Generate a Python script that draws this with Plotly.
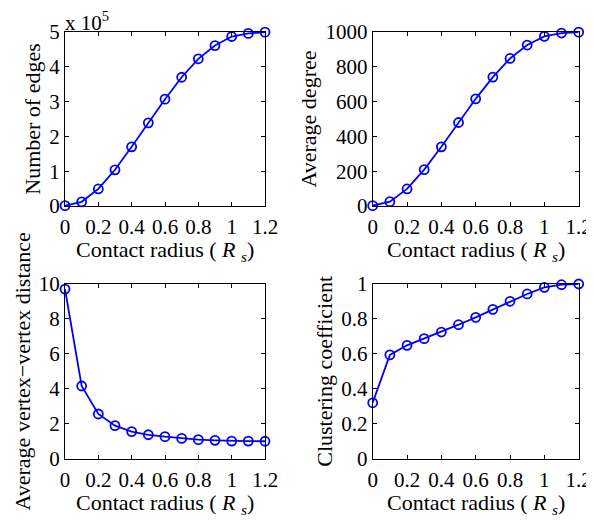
import plotly.graph_objects as go
from plotly.subplots import make_subplots

radius = [0, 0.1, 0.2, 0.3, 0.4, 0.5, 0.6, 0.7, 0.8, 0.9, 1.0, 1.1, 1.2]
edges = [1000, 12000, 49000, 104000, 170000, 239000, 307000, 370000, 423000, 461000, 487000, 496000, 499500]
avg_degree = [2, 25, 98, 209, 340, 480, 616, 741, 848, 925, 975, 994, 999]
avg_distance = [9.71, 4.16, 2.56, 1.89, 1.55, 1.37, 1.26, 1.16, 1.09, 1.05, 1.01, 1.01, 1.0]
clustering = [0.32, 0.594, 0.649, 0.687, 0.725, 0.767, 0.809, 0.855, 0.901, 0.943, 0.981, 0.996, 1.0]
x_ticks = [0, 0.2, 0.4, 0.6, 0.8, 1.0, 1.2]
x_ticklabels = ["0", "0.2", "0.4", "0.6", "0.8", "1", "1.2"]

EDGE_SCALE = 1e5

FONT = "Liberation Serif"
BLUE = "#0000ff"
OFF = 8                 # page body margin
W, H = 594 - OFF, 523 - OFF
TICK_SIZE = 21
TITLE_SIZE = 22


def px(x):
    return (x - OFF) / W


def py(y):
    return 1 - (y - OFF) / H


fig = make_subplots(rows=2, cols=2)

series = [
    ([e / EDGE_SCALE for e in edges], 1, 1),
    (avg_degree, 1, 2),
    (avg_distance, 2, 1),
    (clustering, 2, 2),
]
for ys, r, c in series:
    fig.add_trace(
        go.Scatter(
            x=radius, y=ys, mode="lines+markers",
            line=dict(color=BLUE, width=1.8),
            marker=dict(symbol="circle-open", size=9, color=BLUE, line=dict(width=1.8, color=BLUE)),
            cliponaxis=False, showlegend=False,
        ),
        row=r, col=c,
    )

# domains (reference pixel measurements)
LX = (65, 265)
RX = (372.7, 578.7)
TY = (32, 206)
BY = (284, 458.7)
xd_left = [px(LX[0]), px(LX[1])]
xd_right = [px(RX[0]), px(RX[1])]
yd_top = [py(TY[1]), py(TY[0])]
yd_bot = [py(BY[1]), py(BY[0])]

common_ax = dict(
    showline=True, linecolor="black", linewidth=1, mirror="ticks",
    ticks="inside", ticklen=4, tickcolor="black", tickwidth=1,
    showgrid=False, zeroline=False, automargin=False,
    tickfont=dict(family=FONT, size=TICK_SIZE, color="black"),
)
for i, (xd, yd) in enumerate([(xd_left, yd_top), (xd_right, yd_top), (xd_left, yd_bot), (xd_right, yd_bot)], start=1):
    fig.layout[f"xaxis{'' if i == 1 else i}"].update(
        domain=xd, range=[0, 1.2], tickmode="array",
        tickvals=x_ticks, ticktext=x_ticklabels, ticklabelstandoff=2, **common_ax,
    )
    fig.layout[f"yaxis{'' if i == 1 else i}"].update(domain=yd, **common_ax)

ytf = dict(family=FONT, size=TITLE_SIZE, color="black")
fig.update_yaxes(range=[0, 5], dtick=1, row=1, col=1,
                 title=dict(text="Number of edges", font=ytf, standoff=2))
fig.update_yaxes(range=[0, 1000], dtick=200, row=1, col=2,
                 title=dict(text="Average degree", font=ytf, standoff=2))
fig.update_yaxes(range=[0, 10], dtick=2, row=2, col=1,
                 title=dict(text="Average vertex−vertex distance", font=ytf, standoff=2))
fig.update_yaxes(range=[0, 1], dtick=0.2, row=2, col=2,
                 title=dict(text="Clustering coefficient", font=ytf, standoff=2))

# x-axis titles as annotations for precise placement
xtitle = "Contact radius ( <i>R</i> <sub><i>s</i></sub>)"
for xr, ybot in [(LX, TY[1]), (RX, TY[1]), (LX, BY[1]), (RX, BY[1])]:
    fig.add_annotation(
        text=xtitle, xref="paper", yref="paper",
        x=px((xr[0] + xr[1]) / 2), y=py(ybot + 29), xanchor="center", yanchor="top",
        showarrow=False, font=dict(family=FONT, size=TITLE_SIZE, color="black"),
    )

fig.add_annotation(
    text="x 10<sup>5</sup>", xref="paper", yref="paper",
    x=px(63), y=yd_top[1], xanchor="left", yanchor="bottom",
    showarrow=False, font=dict(family=FONT, size=TICK_SIZE, color="black"), yshift=-5,
)

fig.update_layout(
    width=W, height=H, margin=dict(l=0, r=0, t=0, b=0),
    paper_bgcolor="white", plot_bgcolor="white",
    font=dict(family=FONT, color="black"),
)

fig.write_html("out.html")
